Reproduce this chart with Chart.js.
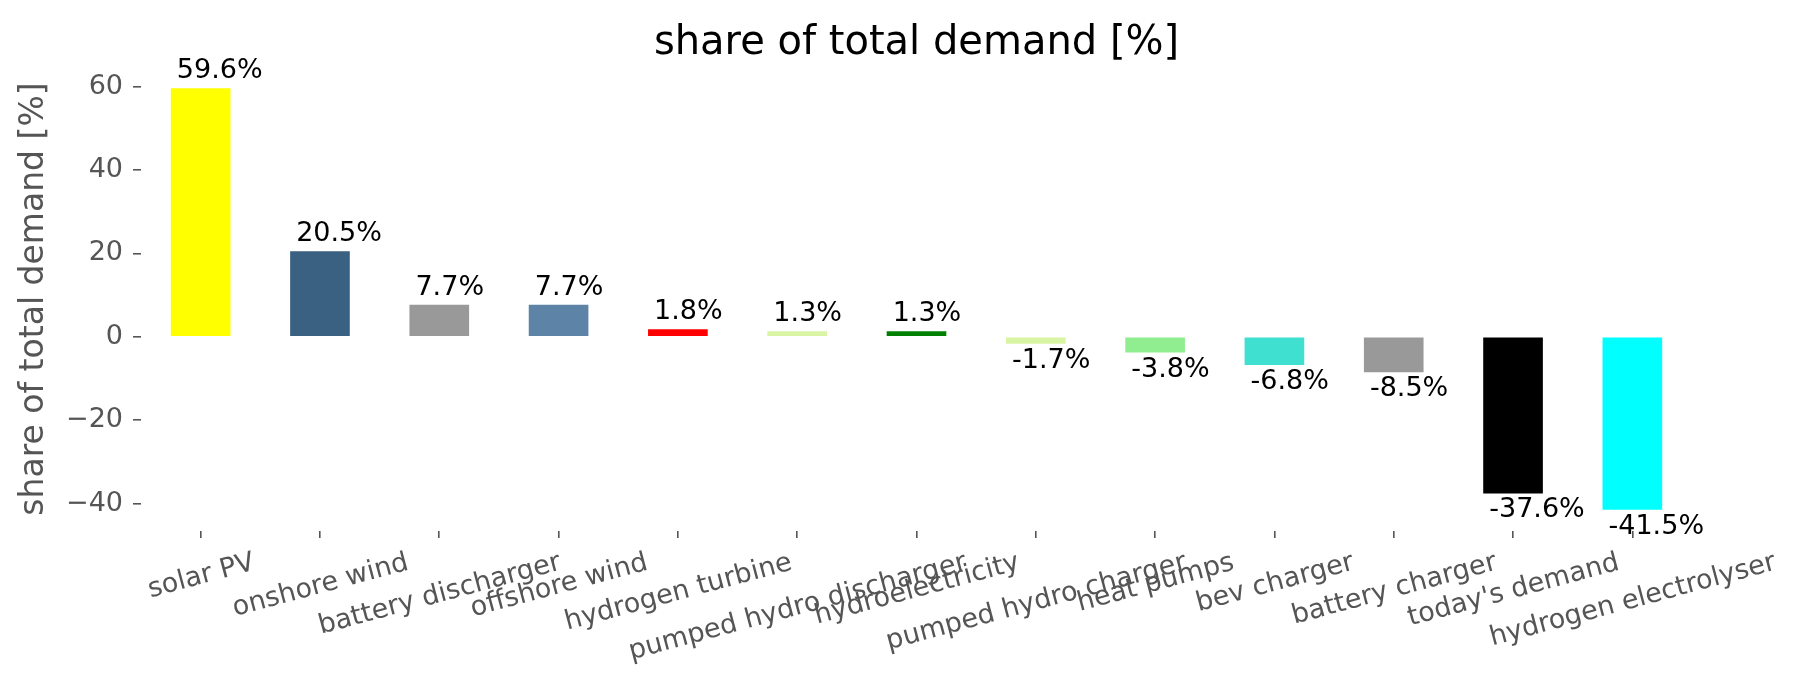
<!DOCTYPE html>
<html>
<head>
<meta charset="utf-8">
<script src="https://cdn.jsdelivr.net/npm/chart.js@4"></script>
<style>
  body { margin: 0; background: #fff; }
  #wrap { width: 1802px; height: 689px; }
</style>
</head>
<body>
<div id="wrap"><canvas id="chart" width="1802" height="689"></canvas></div>
<script>
// Data
const categories = ['solar PV', 'onshore wind', 'battery discharger', 'offshore wind', 'hydrogen turbine',
    'pumped hydro discharger', 'hydroelectricity', 'pumped hydro charger', 'heat pumps', 'bev charger',
    'battery charger', "today's demand", 'hydrogen electrolyser'];
const shares = [59.6, 20.5, 7.7, 7.7, 1.8, 1.3, 1.3, -1.7, -3.8, -6.8, -8.5, -37.6, -41.5];
const barColors = ['#ffff00', '#3b6182', '#999999', '#5d84a6', '#ff0000', '#d9f5a4', '#008000',
    '#d9f5a4', '#90ee90', '#40e0d0', '#999999', '#000000', '#00ffff'];
const yTicks = [-40, -20, 0, 20, 40, 60];
const yMin = -46.6;
const yMax = 64.7;

const FONT = '"DejaVu Sans", sans-serif';

// value labels above / below each bar
const barLabels = {
    id: 'barLabels',
    afterDatasetsDraw(chart) {
        const ctx = chart.ctx;
        const meta = chart.getDatasetMeta(0);
        ctx.save();
        ctx.font = '27px ' + FONT;
        ctx.fillStyle = '#000';
        ctx.textAlign = 'left';
        ctx.textBaseline = 'alphabetic';
        meta.data.forEach((bar, i) => {
            const v = shares[i];
            const x = bar.x - bar.width / 2 + 6;
            const y = v >= 0 ? bar.y - 10 : bar.y + 24;
            ctx.fillText(v.toFixed(1) + '%', x, y);
        });
        ctx.restore();
    }
};

// rotated x labels, centred on the tick like matplotlib does
const xLabels = {
    id: 'xLabels',
    afterDraw(chart) {
        const ctx = chart.ctx;
        const xs = chart.scales.x;
        const size = 27;
        const theta = 15 * Math.PI / 180;
        const h = size * 1.164;
        const top = xs.top + 7 + 7;
        ctx.save();
        ctx.font = size + 'px ' + FONT;
        ctx.fillStyle = '#555555';
        ctx.textAlign = 'center';
        ctx.textBaseline = 'alphabetic';
        categories.forEach((label, i) => {
            const w = ctx.measureText(label).width;
            const H = w * Math.sin(theta) + h * Math.cos(theta);
            const cx = xs.getPixelForValue(i);
            const cy = top + H / 2;
            ctx.save();
            ctx.translate(cx, cy);
            ctx.rotate(-theta);
            ctx.fillText(label, 0, size * (0.928 - 0.236) / 2);
            ctx.restore();
        });
        ctx.restore();
    }
};

const ctx = document.getElementById('chart').getContext('2d');
new Chart(ctx, {
    type: 'bar',
    data: {
        labels: categories,
        datasets: [{
            data: shares,
            backgroundColor: barColors,
            barPercentage: 0.5,
            categoryPercentage: 1.0
        }]
    },
    options: {
        responsive: false,
        animation: false,
        devicePixelRatio: 1,
        layout: { padding: { left: 0, right: 110, top: 0, bottom: 0 } },
        plugins: {
            legend: { display: false },
            tooltip: { enabled: false },
            title: {
                display: true,
                text: 'share of total demand [%]',
                color: '#000',
                fullSize: false,
                font: { family: FONT, size: 40, weight: 'normal', lineHeight: 1 },
                padding: { top: 24, bottom: 3 }
            }
        },
        scales: {
            x: {
                offset: true,
                border: { display: false },
                grid: {
                    offset: false,
                    drawOnChartArea: false,
                    drawTicks: true,
                    tickLength: 7,
                    color: '#555555',
                    lineWidth: 1.6
                },
                ticks: { display: false, autoSkip: false },
                afterFit: s => { s.height = 158; }
            },
            y: {
                min: yMin,
                max: yMax,
                border: { display: false },
                afterBuildTicks: s => { s.ticks = yTicks.map(v => ({ value: v })); },
                grid: {
                    drawOnChartArea: false,
                    drawTicks: true,
                    tickLength: 8,
                    color: '#555555',
                    lineWidth: 1.6
                },
                ticks: {
                    font: { family: FONT, size: 27 },
                    color: '#555555',
                    padding: 10,
                    callback: v => String(v).replace('-', '\u2212')
                },
                title: {
                    display: true,
                    text: 'share of total demand [%]',
                    color: '#555555',
                    font: { family: FONT, size: 33 },
                    padding: { top: 15, bottom: 0 }
                },
                afterFit: s => { s.width = 141; }
            }
        }
    },
    plugins: [barLabels, xLabels]
});
</script>
</body>
</html>
